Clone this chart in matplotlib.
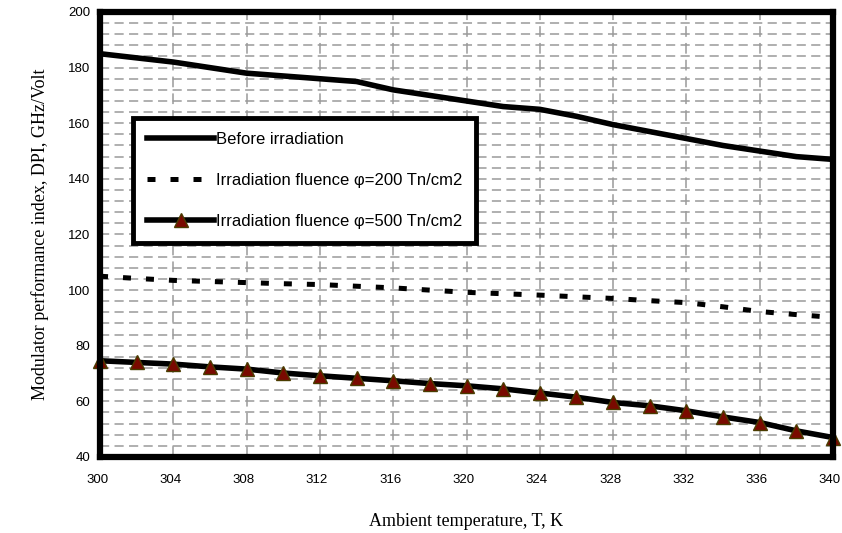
import matplotlib
matplotlib.use("Agg")
import matplotlib.pyplot as plt
from matplotlib.ticker import MultipleLocator
from matplotlib.transforms import ScaledTranslation

# Ambient temperature, K
temp = [300, 302, 304, 306, 308, 310, 312, 314, 316, 318, 320,
        322, 324, 326, 328, 330, 332, 334, 336, 338, 340]

# DPI, GHz/Volt
dpi_before = [185, 183.5, 182, 180, 178, 177, 176, 175, 172, 170, 168,
              166, 165, 162.5, 159.5, 157, 154.5, 152, 150, 148, 147]
dpi_200 = [105, 104.2, 103.5, 103.1, 102.7, 102.3, 102, 101.4, 100.8, 100, 99.2,
           98.7, 98.2, 97.6, 97, 96.2, 95.5, 94, 92.3, 91.2, 90.2]
dpi_500 = [74.6, 74, 73.4, 72.4, 71.6, 70.2, 69.2, 68.3, 67.4, 66.4, 65.6,
           64.5, 63, 61.5, 59.6, 58.4, 56.6, 54.4, 52.4, 49.4, 47]

labels = ["Before irradiation",
          "Irradiation fluence \u03c6=200 Tn/cm2",
          "Irradiation fluence \u03c6=500 Tn/cm2"]

sans = ["Liberation Sans Narrow", "Liberation Sans", "DejaVu Sans"]
serif = ["Liberation Serif", "DejaVu Serif"]

fig = plt.figure(figsize=(8.42, 5.33), dpi=100)
ax = fig.add_axes([0.1188, 0.1426, 0.8705, 0.8349])

ax.plot(temp, dpi_before, color="black", lw=4.0, label=labels[0],
        solid_joinstyle="round", zorder=3)
ax.plot(temp, dpi_200, color="black", lw=3.6, linestyle=(0, (1.6, 3.0)),
        label=labels[1], zorder=3)
ax.plot(temp, dpi_500, color="black", lw=4.0, marker="^", markersize=10,
        markerfacecolor="#7a0a00", markeredgecolor="#4a3c00", markeredgewidth=1.0,
        label=labels[2], zorder=4, clip_on=False)

ax.set_xlim(300, 340)
ax.set_ylim(40, 200)
ax.xaxis.set_major_locator(MultipleLocator(4))
ax.yaxis.set_major_locator(MultipleLocator(20))
ax.yaxis.set_minor_locator(MultipleLocator(4))

ax.grid(True, axis="x", which="major", color="#9a9a9a", lw=1.1,
        linestyle=(0, (7, 4)), zorder=1)
ax.grid(True, axis="y", which="both", color="#9a9a9a", lw=1.1,
        linestyle=(0, (6, 3.5)), zorder=1)

ax.tick_params(axis="both", which="both", length=0)
ax.tick_params(axis="x", pad=12)
ax.tick_params(axis="y", pad=7)
shift = ScaledTranslation(-3 / 100, 0, fig.dpi_scale_trans)
for t in ax.get_xticklabels():
    t.set_family(sans)
    t.set_fontsize(9.5)
    t.set_transform(t.get_transform() + shift)
for t in ax.get_yticklabels():
    t.set_family(sans)
    t.set_fontsize(9.5)

for side in ["left", "right", "top", "bottom"]:
    ax.spines[side].set_linewidth(4.5)
    ax.spines[side].set_color("black")
    ax.spines[side].set_zorder(5)

ax.set_xlabel("Ambient temperature, T, K", family=serif, fontsize=13, labelpad=20)
ax.set_ylabel("Modulator performance index, DPI, GHz/Volt", family=serif,
              fontsize=13, labelpad=14)

leg = ax.legend(loc="upper left", bbox_to_anchor=(0.045, 0.762), fancybox=False,
                framealpha=1, edgecolor="black", numpoints=1, handlelength=4.0,
                handletextpad=0.1, labelspacing=1.55, borderpad=0.85,
                borderaxespad=0, prop={"family": sans, "size": 12})
leg.get_frame().set_linewidth(3.5)
leg.set_zorder(6)

fig.savefig("out.png", dpi=100)
